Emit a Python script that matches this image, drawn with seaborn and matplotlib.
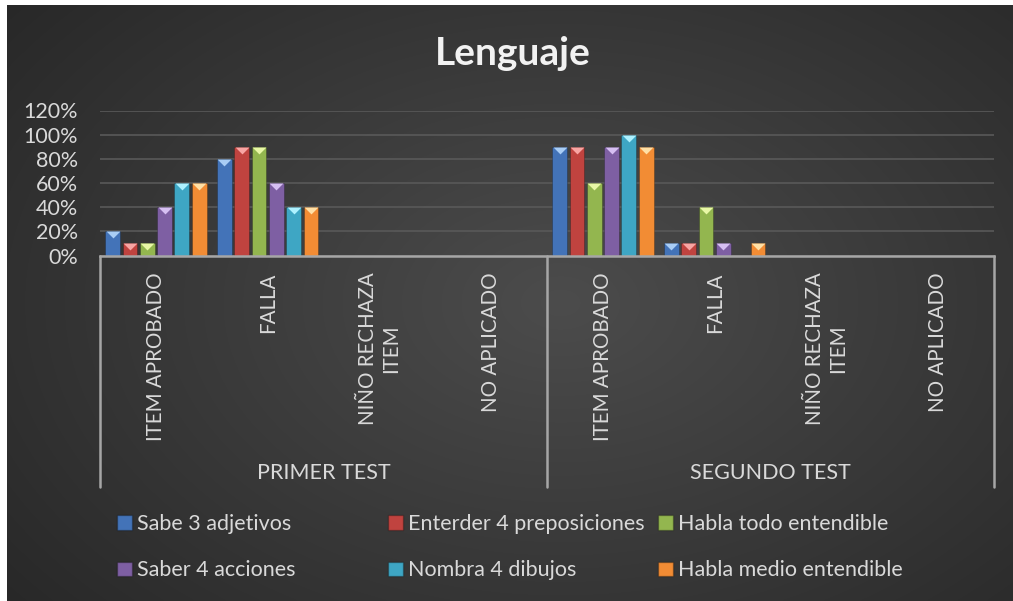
import numpy as np
import pandas as pd
import matplotlib
matplotlib.use("Agg")
import matplotlib.pyplot as plt
import matplotlib.transforms as mtransforms
from matplotlib.patches import Patch
from matplotlib.ticker import PercentFormatter
import seaborn as sns

# Categorías (dos niveles) y series
tests = ["PRIMER TEST", "SEGUNDO TEST"]
resultados = ["ITEM APROBADO", "FALLA", "NIÑO RECHAZA\nITEM", "NO APLICADO"]
series = ["Sabe 3 adjetivos", "Enterder 4 preposiciones", "Habla todo entendible",
          "Saber 4 acciones", "Nombra 4 dibujos", "Habla medio entendible"]

# Valores (primer test x4, segundo test x4)
sabe_3_adjetivos = [0.2, 0.8, 0, 0, 0.9, 0.1, 0, 0]
enterder_4_preposiciones = [0.1, 0.9, 0, 0, 0.9, 0.1, 0, 0]
habla_todo_entendible = [0.1, 0.9, 0, 0, 0.6, 0.4, 0, 0]
saber_4_acciones = [0.4, 0.6, 0, 0, 0.9, 0.1, 0, 0]
nombra_4_dibujos = [0.6, 0.4, 0, 0, 1.0, 0.0, 0, 0]
habla_medio_entendible = [0.6, 0.4, 0, 0, 0.9, 0.1, 0, 0]

colores = ["#4373b8", "#c0433f", "#93b64f", "#7e5fa3", "#3ea6c4", "#f28c34"]
tapas = ["#a9cdf5", "#f8a5a3", "#e8f7a6", "#d6bff2", "#aef1ff", "#ffe0a6"]

valores = [sabe_3_adjetivos, enterder_4_preposiciones, habla_todo_entendible,
           saber_4_acciones, nombra_4_dibujos, habla_medio_entendible]
categorias = [f"{t} | {r}" for t in tests for r in resultados]
df = pd.DataFrame([(c, s, v) for s, vals in zip(series, valores)
                   for c, v in zip(categorias, vals)],
                  columns=["categoria", "serie", "valor"])

sns.set_theme(style="dark")
plt.rcParams["font.family"] = ["Lato", "DejaVu Sans"]
txt = "#d9d9d9"
W, H = 1013, 601

fig = plt.figure(figsize=(W / 100, H / 100), dpi=100, facecolor="white")

# Fondo con degradado radial
bg = fig.add_axes([7 / W, 0, 1 - 7 / W, 1 - 5 / H], zorder=-10)
yy, xx = np.mgrid[0:1:300j, 0:1:500j]
r = np.sqrt(((xx - 0.55) / 0.75) ** 2 + ((yy - 0.5) / 0.85) ** 2)
r = np.clip(r, 0, 1)
inner, outer = np.array([0x4c, 0x4c, 0x4c]) / 255, np.array([0x26, 0x26, 0x26]) / 255
img = inner[None, None, :] * (1 - r[..., None]) + outer[None, None, :] * r[..., None]
bg.imshow(img, aspect="auto", interpolation="bilinear")
bg.axis("off")

ax = fig.add_axes([100 / W, 1 - 255.5 / H, 894 / W, 145 / H])
ax.set_facecolor("none")
sns.barplot(data=df, x="categoria", y="valor", hue="serie", order=categorias,
            hue_order=series, palette=colores, width=0.93, gap=0.15,
            saturation=1, legend=False, ax=ax, zorder=3)

# Tapas triangulares sobre cada barra
cap = [(-1, 0), (1, 0), (0, -1), (-1, 0)]
for i, s in enumerate(series):
    for p in ax.patches[i * len(categorias):(i + 1) * len(categorias)]:
        p.set_edgecolor("#00000040")
        p.set_linewidth(0.6)
        if p.get_height() > 0:
            ax.plot(p.get_x() + p.get_width() / 2, p.get_height(), marker=cap,
                    ms=10, color=tapas[i], mec="none", ls="", zorder=4)

ax.set_ylim(0, 1.2)
ax.set_xlim(-0.5, len(categorias) - 0.5)
ax.set_yticks(np.arange(0, 1.21, 0.2))
ax.yaxis.set_major_formatter(PercentFormatter(1.0, decimals=0))
ax.grid(axis="y", color="#595959", lw=1.2, zorder=0)
ax.grid(axis="x", visible=False)
ax.set_xticks(range(len(categorias)))
ax.set_xticklabels(resultados * len(tests), rotation=90, fontsize=14.8, color=txt)
ax.tick_params(axis="x", length=0, pad=12)
ax.tick_params(axis="y", length=0, pad=16, labelsize=15.5, labelcolor=txt)
ax.set_xlabel("")
ax.set_ylabel("")
for side in ["top", "right", "left"]:
    ax.spines[side].set_visible(False)
ax.spines["bottom"].set_color("#a6a6a6")
ax.spines["bottom"].set_linewidth(1.8)
ax.spines["bottom"].set_zorder(5)

# Eje de categorías agrupadas
trans = mtransforms.blended_transform_factory(ax.transData, fig.transFigure)
n = len(resultados)
for k in range(len(tests) + 1):
    x = k * n - 0.5
    ax.plot([x, x], [1 - 255.5 / H, 1 - 487 / H], color="#a6a6a6", lw=1.8,
            transform=trans, clip_on=False)
for k, t in enumerate(tests):
    ax.text(k * n + (n - 1) / 2, 1 - 473 / H, t, transform=trans, ha="center",
            va="center", fontsize=15.5, color=txt)

fig.text(513 / W, 1 - 65 / H, "Lenguaje", ha="center", va="baseline",
         fontsize=28, fontweight="bold", color="#f2f2f2")

# Leyenda en tres columnas
handles = [Patch(facecolor=c, edgecolor="#00000040") for c in colores]
for col, x0 in enumerate([117, 388, 658]):
    idx = [col, col + 3]
    fig.legend([handles[i] for i in idx], [series[i] for i in idx],
               loc="upper left", bbox_to_anchor=(x0 / W, 1 - 514 / H),
               frameon=False, borderpad=0, borderaxespad=0, fontsize=15.5,
               labelcolor=txt, handlelength=0.68, handleheight=0.64,
               handletextpad=0.25, labelspacing=1.22)

fig.savefig("out.png", dpi=100, facecolor=fig.get_facecolor())
